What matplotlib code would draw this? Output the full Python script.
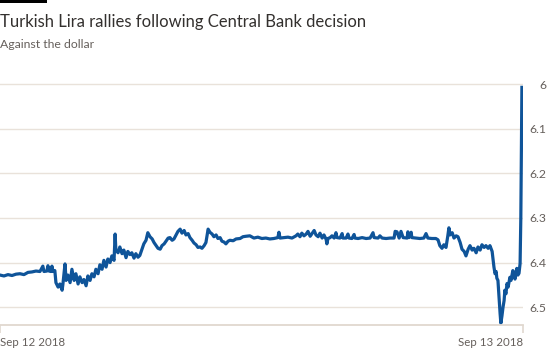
import matplotlib
matplotlib.use("Agg")
import matplotlib.pyplot as plt
from matplotlib.patches import Rectangle

# ---- data: USD/TRY, minutes after Sep 12 2018 00:00 ----
t_min = [0, 11, 22, 33, 44, 55, 66, 77, 88, 99, 110, 118, 121, 129, 132, 135, 140, 143, 146, 151,
         154, 160, 165, 171, 173, 179, 182, 187, 193, 198, 204, 209, 215, 220, 226, 231, 237, 242, 248, 253,
         259, 264, 270, 275, 281, 286, 292, 297, 303, 308, 314, 317, 319, 325, 330, 336, 341, 347, 352, 358,
         363, 369, 374, 380, 385, 391, 396, 402, 407, 413, 419, 424, 430, 435, 441, 446, 452, 457, 463, 468,
         474, 479, 485, 490, 496, 501, 507, 512, 518, 523, 529, 534, 540, 545, 551, 556, 562, 567, 573, 578,
         584, 589, 595, 600, 606, 611, 617, 622, 628, 633, 642, 650, 661, 669, 677, 688, 699, 710, 721, 732,
         743, 754, 765, 768, 771, 782, 793, 804, 815, 820, 826, 831, 837, 843, 848, 854, 859, 865, 870, 876,
         881, 887, 892, 898, 900, 903, 909, 914, 920, 925, 928, 936, 942, 944, 953, 958, 961, 969, 975, 977,
         986, 997, 1008, 1019, 1027, 1030, 1041, 1046, 1052, 1063, 1074, 1085, 1088, 1093, 1099, 1104, 1110, 1121, 1123, 1126,
         1132, 1134, 1145, 1156, 1167, 1173, 1178, 1189, 1200, 1206, 1211, 1217, 1222, 1228, 1233, 1236, 1239, 1245, 1250, 1256,
         1261, 1267, 1272, 1278, 1283, 1289, 1294, 1300, 1305, 1311, 1316, 1322, 1327, 1333, 1338, 1344, 1349, 1355, 1360, 1363,
         1366, 1368, 1371, 1374, 1377, 1379, 1382, 1385, 1388, 1390, 1393, 1396, 1399, 1404, 1407, 1412, 1415, 1418, 1421, 1423,
         1426, 1429, 1432, 1434, 1437]
usd_try = [6.428, 6.430, 6.427, 6.429, 6.426, 6.425, 6.427, 6.422, 6.421, 6.419, 6.420, 6.408, 6.420, 6.419, 6.407, 6.419, 6.420, 6.408, 6.420, 6.418,
           6.445, 6.455, 6.448, 6.462, 6.450, 6.403, 6.440, 6.428, 6.445, 6.415, 6.440, 6.425, 6.448, 6.432, 6.445, 6.438, 6.452, 6.430, 6.440, 6.425,
           6.432, 6.415, 6.425, 6.405, 6.415, 6.395, 6.410, 6.392, 6.400, 6.385, 6.395, 6.336, 6.372, 6.378, 6.365, 6.380, 6.372, 6.389, 6.375, 6.382,
           6.378, 6.390, 6.380, 6.388, 6.384, 6.370, 6.358, 6.350, 6.333, 6.342, 6.347, 6.355, 6.362, 6.368, 6.370, 6.362, 6.358, 6.352, 6.345, 6.344,
           6.350, 6.347, 6.338, 6.330, 6.325, 6.334, 6.328, 6.338, 6.335, 6.344, 6.350, 6.356, 6.360, 6.366, 6.365, 6.368, 6.362, 6.355, 6.325, 6.332,
           6.336, 6.342, 6.338, 6.346, 6.344, 6.352, 6.354, 6.358, 6.352, 6.350, 6.351, 6.347, 6.346, 6.342, 6.341, 6.340, 6.345, 6.343, 6.346, 6.345,
           6.347, 6.346, 6.344, 6.332, 6.345, 6.344, 6.343, 6.345, 6.340, 6.336, 6.342, 6.334, 6.340, 6.336, 6.330, 6.341, 6.335, 6.328, 6.338, 6.342,
           6.334, 6.345, 6.338, 6.348, 6.358, 6.346, 6.344, 6.340, 6.345, 6.333, 6.344, 6.345, 6.335, 6.345, 6.345, 6.336, 6.345, 6.346, 6.337, 6.345,
           6.346, 6.344, 6.346, 6.345, 6.333, 6.344, 6.345, 6.340, 6.345, 6.346, 6.345, 6.345, 6.330, 6.331, 6.345, 6.330, 6.344, 6.345, 6.331, 6.344,
           6.332, 6.344, 6.345, 6.346, 6.345, 6.335, 6.345, 6.346, 6.346, 6.349, 6.362, 6.368, 6.360, 6.366, 6.340, 6.322, 6.338, 6.333, 6.345, 6.340,
           6.342, 6.355, 6.370, 6.375, 6.385, 6.370, 6.362, 6.372, 6.368, 6.378, 6.365, 6.372, 6.360, 6.366, 6.362, 6.368, 6.362, 6.375, 6.410, 6.425,
           6.420, 6.435, 6.440, 6.478, 6.515, 6.536, 6.520, 6.500, 6.485, 6.462, 6.470, 6.447, 6.455, 6.433, 6.440, 6.418, 6.430, 6.437, 6.420, 6.413,
           6.428, 6.424, 6.402, 6.300, 6.007]

y_ticks = [6.0, 6.1, 6.2, 6.3, 6.4, 6.5]
y_ticklabels = ["6", "6.1", "6.2", "6.3", "6.4", "6.5"]
x_ticks = [0, 1440]
x_ticklabels = ["Sep 12 2018", "Sep 13 2018"]

TITLE = "Turkish Lira rallies following Central Bank decision"
SUBTITLE = "Against the dollar"

# ---- style ----
FONT = "Lato"
LINE_C = "#0f5499"
GRID_C = "#e9e2da"
AXIS_C = "#e0d8cf"
TEXT_C = "#66605c"

W, H = 550, 360
fig = plt.figure(figsize=(W / 100, H / 100), dpi=100)
fig.patch.set_facecolor("white")

# axes box in pixel terms
left, right, top, bottom = 0, 523, 82, 325
ax = fig.add_axes([left / W, 1 - bottom / H, (right - left) / W, (bottom - top) / H])

ax.plot(t_min, usd_try, color=LINE_C, linewidth=2.3, solid_joinstyle="round")

ax.set_xlim(0, 1440)
ax.set_ylim(6.54, 5.995)

for s in ("top", "left", "right"):
    ax.spines[s].set_visible(False)
ax.spines["bottom"].set_color(AXIS_C)
ax.spines["bottom"].set_linewidth(1.3)

ax.yaxis.tick_right()
ax.set_yticks(y_ticks)
ax.set_yticklabels(y_ticklabels, fontfamily=FONT, fontsize=8.8, color=TEXT_C)
ax.tick_params(axis="y", length=0, pad=16.5)
for lab in ax.get_yticklabels():
    lab.set_horizontalalignment("right")
ax.grid(axis="y", color=GRID_C, linewidth=1.0)
ax.set_axisbelow(True)

ax.set_xticks(x_ticks)
ax.set_xticklabels(x_ticklabels, fontfamily=FONT, fontsize=8.3, color=TEXT_C)
ax.tick_params(axis="x", length=6, width=1.2, color=AXIS_C, pad=3)
xl = ax.get_xticklabels()
xl[0].set_horizontalalignment("left")
xl[1].set_horizontalalignment("right")

# header
fig.patches.append(Rectangle((0, 1 - 3 / H), 47 / W, 3 / H, transform=fig.transFigure,
                             facecolor="black", edgecolor="none"))
fig.text(0, 1 - 27 / H, TITLE, fontfamily=FONT, fontsize=12, color="#33302e", va="baseline")
fig.text(0, 1 - 48 / H, SUBTITLE, fontfamily=FONT, fontsize=8.8, color=TEXT_C, va="baseline")

fig.savefig("out.png", dpi=100, facecolor="white")
